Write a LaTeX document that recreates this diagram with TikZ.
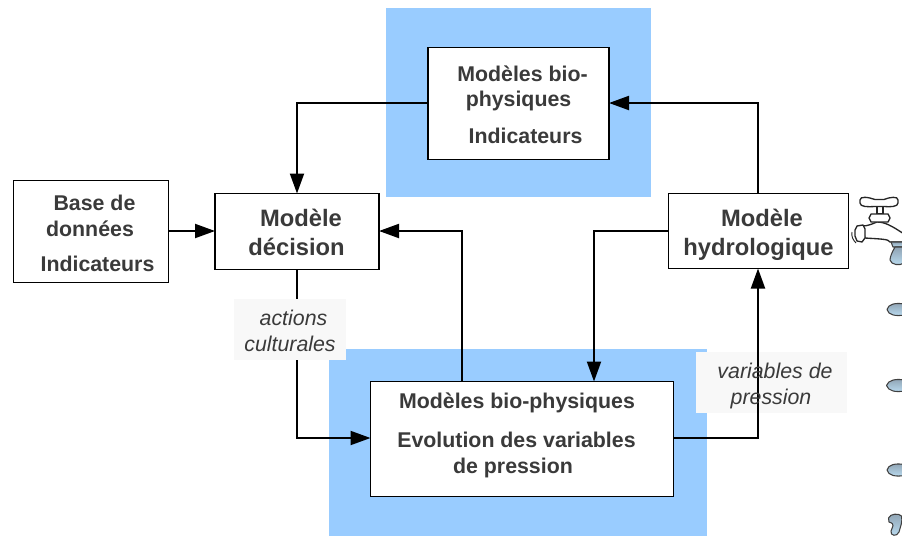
\documentclass[tikz,border=0pt]{standalone}
\usepackage{fontspec}
\setmainfont{Liberation Sans}
\usetikzlibrary{arrows.meta}
\definecolor{panel}{HTML}{99CCFF}
\definecolor{ink}{HTML}{3A3A3A}
\definecolor{labelbg}{HTML}{F8F8F8}
\definecolor{droptop}{HTML}{8FA3B3}
\definecolor{dropbot}{HTML}{BBDDF2}
\tikzset{
  panelbox/.style={fill=panel,draw=none},
  box/.style={draw=black,fill=white,line width=1.3pt,inner sep=0pt,outer sep=0pt},
  small/.style={font=\fontsize{16}{19}\selectfont\bfseries,text=ink,inner sep=0pt,anchor=base},
  big/.style={font=\fontsize{17.8}{21}\selectfont\bfseries,text=ink,inner sep=0pt,anchor=base},
  tag/.style={fill=labelbg,inner sep=0pt,outer sep=0pt},
  tagtext/.style={font=\fontsize{16}{19}\selectfont\itshape,text=ink,inner sep=0pt,anchor=base},
  conn/.style={draw=black,line width=1.5pt,-{Triangle[length=15pt,width=10.5pt]}},
  plainconn/.style={draw=black,line width=1.5pt},
  tapline/.style={draw=black!85,line width=1pt,fill=white,line join=round},
  drop/.style={draw=black!75,line width=0.8pt,top color=droptop,bottom color=dropbot,line join=round},
}
\begin{document}
\begin{tikzpicture}[x=0.75pt,y=-0.75pt]
\useasboundingbox (0,0) rectangle (902,536);
% panels
\node[panelbox,minimum width=264.5*0.75pt,minimum height=189*0.75pt,anchor=north west] (panelA) at (386,8) {};
\node[panelbox,minimum width=378*0.75pt,minimum height=187*0.75pt,anchor=north west] (panelB) at (329,349) {};
% boxes
\node[box,minimum width=181*0.75pt,minimum height=112*0.75pt,anchor=north west] (bio) at (428,47.5) {};
\node[box,minimum width=155*0.75pt,minimum height=102*0.75pt,anchor=north west] (base) at (13.5,180.5) {};
\node[box,minimum width=164*0.75pt,minimum height=76*0.75pt,anchor=north west] (dec) at (215,193.5) {};
\node[box,minimum width=180*0.75pt,minimum height=75*0.75pt,anchor=north west] (hyd) at (668.5,193.5) {};
\node[box,minimum width=303*0.75pt,minimum height=115*0.75pt,anchor=north west] (evo) at (370.5,381.5) {};
% label backgrounds
\node[tag,minimum width=112*0.75pt,minimum height=61*0.75pt,anchor=north west] (tagA) at (234,299) {};
\node[tag,minimum width=151*0.75pt,minimum height=61*0.75pt,anchor=north west] (tagB) at (696,352) {};
% connectors
\coordinate (c1) at (297,231);
\draw[conn] (bio.west |- 0,103) -| (dec.north -| c1);
\draw[conn] (hyd.north -| 758,0) |- (bio.east |- 0,103);
\draw[conn] (base.east |- 0,231) -- (dec.west |- 0,231);
\draw[conn] (evo.north -| 462,0) |- (dec.east |- 0,231);
\draw[conn] (hyd.west |- 0,231) -| (evo.north -| 594,0);
\draw[conn] (evo.east |- 0,438) -| (hyd.south -| 758,0);
\draw[plainconn] (dec.south -| c1) -- (tagA.north -| c1);
\draw[conn] (tagA.south -| c1) |- (evo.west |- 0,438);
% texts
\node[small] (t1) at (522.5,81) {Modèles bio-};
\node[small] (t2) at (518.5,106) {physiques};
\node[small] (t3) at (525.5,143) {Indicateurs};
\node[small] (t4) at (94.5,210) {Base de};
\node[small] (t5) at (90,236) {données};
\node[small] (t6) at (97.5,271) {Indicateurs};
\node[big] (t7) at (301,226) {Modèle};
\node[big] (t8) at (296.5,255) {décision};
\node[big] (t9) at (762,226) {Modèle};
\node[big] (t10) at (758.5,255) {hydrologique};
\node[small] (t11) at (517,408) {Modèles bio-physiques};
\node[small] (t12) at (516.5,447) {Evolution des variables};
\node[small] (t13) at (513,473) {de pression};
\node[tagtext] (t14) at (293.5,325) {actions};
\node[tagtext] (t15) at (290,351) {culturales};
\node[tagtext] (t16) at (775,378) {variables de};
\node[tagtext] (t17) at (771,404) {pression};
% tap
\begin{scope}
\clip (845,190) rectangle (902,536);
% body
\draw[tapline] (862,226) .. controls (868,226) and (872,224) .. (877,222) .. controls (885,222) and (892,226) .. (904,234) -- (904,242) -- (890,242) .. controls (889,239) and (880,239) .. (865,238) -- cycle;
% stem and collar
\draw[tapline] (877,205) rectangle (883,214);
\draw[tapline] (871,214) -- (888,214) -- (890,218) -- (888,222) -- (871,222) -- (869,218) -- cycle;
% handle
\draw[tapline] (860,200) .. controls (860,196) and (868,197) .. (875,199.5) -- (884,199.5) .. controls (890,197) and (898,196) .. (898,200) -- (898,203) .. controls (898,207) and (890,207) .. (884,206.5) -- (875,206.5) .. controls (868,207) and (860,207) .. (860,203) -- cycle;
% nut
\draw[tapline] (857,226) -- (863,225) -- (865,229) -- (865,238) -- (862,242) -- (857,241) -- (855,236) -- (855,230) -- cycle;
\draw[black!85,line width=0.7pt] (852,232) .. controls (851,236) and (853,240) .. (856,243);
% water
\draw[drop] (891,242) -- (904,242) -- (904,247) -- (893,247) -- cycle;
\draw[drop] (895,247) .. controls (892,252) and (890,257) .. (890,260) .. controls (891,265) and (900,266) .. (904,263) -- (904,247) -- cycle;
\draw[drop] (887,309.5) .. controls (888,304) and (896,302.5) .. (904,304) -- (904,315) .. controls (896,316.5) and (888,315) .. (887,309.5) -- cycle;
\draw[drop] (886.5,385.5) .. controls (888,380) and (896,378.5) .. (904,380) -- (904,391) .. controls (896,392.5) and (888,391) .. (886.5,385.5) -- cycle;
\draw[drop] (887,470) .. controls (888,464.5) and (896,463) .. (904,464.5) -- (904,475.5) .. controls (896,477) and (888,475.5) .. (887,470) -- cycle;
\draw[drop] (888.5,518) .. controls (890,513.5) and (899,513) .. (901.5,516) .. controls (903,521) and (900,528) .. (899,532) .. controls (897,537) and (890,536) .. (891,531) .. controls (892,527) and (896,524) .. (889,522) -- cycle;
\end{scope}
\end{tikzpicture}
\end{document}
